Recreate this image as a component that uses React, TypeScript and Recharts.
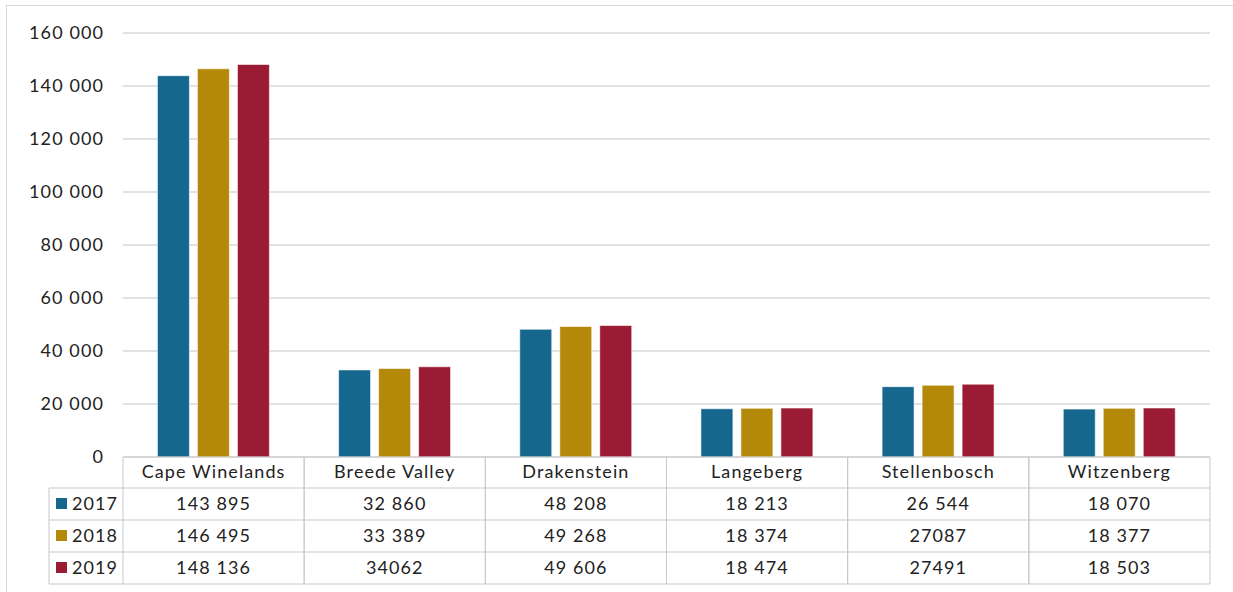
import React from "react";
import { BarChart, Bar, XAxis, YAxis, CartesianGrid } from "recharts";

const municipalities = [
  "Cape Winelands",
  "Breede Valley",
  "Drakenstein",
  "Langeberg",
  "Stellenbosch",
  "Witzenberg",
];
const values2017 = [143895, 32860, 48208, 18213, 26544, 18070];
const values2018 = [146495, 33389, 49268, 18374, 27087, 18377];
const values2019 = [148136, 34062, 49606, 18474, 27491, 18503];
// table cells are printed as they appear in the source table (some lack the space)
const labels2017 = ["143 895", "32 860", "48 208", "18 213", "26 544", "18 070"];
const labels2018 = ["146 495", "33 389", "49 268", "18 374", "27087", "18 377"];
const labels2019 = ["148 136", "34062", "49 606", "18 474", "27491", "18 503"];
const yTicks = [0, 20000, 40000, 60000, 80000, 100000, 120000, 140000, 160000];

const series = [
  { key: "y2017", name: "2017", color: "#15678e", labels: labels2017 },
  { key: "y2018", name: "2018", color: "#b4890a", labels: labels2018 },
  { key: "y2019", name: "2019", color: "#9b1b35", labels: labels2019 },
];

const data = municipalities.map((name, i) => ({
  name,
  y2017: values2017[i],
  y2018: values2018[i],
  y2019: values2019[i],
}));

const FONT = "Lato, 'DejaVu Sans', sans-serif";
const FONT_SIZE = 18;
const SPACING = 1.1;
const LINE = "#c9c9c9";
const TEXT = "#222";

const WIDTH = 1233;
const HEIGHT = 592;
const PLOT_LEFT = 123;
const PLOT_RIGHT = 1210;
const COL_W = (PLOT_RIGHT - PLOT_LEFT) / municipalities.length;
const HEADER_H = 31;
const ROW_H = 32;
const LEGEND_LEFT = 49;

const fmt = (v: number) => v.toLocaleString("en-US").replace(/,/g, " ");

// each x tick renders one column of the data table under its bars
function TableColumn(props: any) {
  const { x, y, payload, index } = props;
  const left = x - COL_W / 2;
  const right = x + COL_W / 2;
  const bottom = y + HEADER_H + ROW_H * series.length;
  return (
    <g fontFamily={FONT} fontSize={FONT_SIZE} letterSpacing={SPACING} fill={TEXT}>
      <line x1={left} x2={left} y1={y} y2={bottom} stroke={LINE} />
      <line x1={right} x2={right} y1={y} y2={bottom} stroke={LINE} />
      <text x={x} y={y + HEADER_H / 2 + 1} textAnchor="middle" dominantBaseline="middle">
        {payload.value}
      </text>
      {series.map((s, r) => {
        const top = y + HEADER_H + ROW_H * r;
        return (
          <g key={s.key}>
            <line x1={left} x2={right} y1={top} y2={top} stroke={LINE} />
            <text x={x} y={top + ROW_H / 2 + 1} textAnchor="middle" dominantBaseline="middle">
              {s.labels[index]}
            </text>
          </g>
        );
      })}
      <line x1={left} x2={right} y1={bottom} y2={bottom} stroke={LINE} />
      {index === 0 && (
        <g>
          <line x1={LEGEND_LEFT} x2={LEGEND_LEFT} y1={y + HEADER_H} y2={bottom} stroke={LINE} />
          {series.map((s, r) => {
            const top = y + HEADER_H + ROW_H * r;
            return (
              <g key={s.key}>
                <line x1={LEGEND_LEFT} x2={left} y1={top} y2={top} stroke={LINE} />
                <rect x={56} y={top + 10} width={11} height={11} fill={s.color} />
                <text x={72} y={top + ROW_H / 2 + 1} dominantBaseline="middle">
                  {s.name}
                </text>
              </g>
            );
          })}
          <line x1={LEGEND_LEFT} x2={left} y1={bottom} y2={bottom} stroke={LINE} />
        </g>
      )}
    </g>
  );
}

export default function App() {
  return (
    <div
      style={{
        position: "absolute",
        left: 0,
        top: 0,
        width: WIDTH,
        height: HEIGHT,
        background: "#fff",
        overflow: "hidden",
      }}
    >
      <div
        style={{
          position: "absolute",
          left: 6,
          top: 5,
          width: WIDTH,
          height: HEIGHT,
          border: "1.5px solid #d9d9d9",
        }}
      />
      <BarChart
        width={WIDTH}
        height={HEIGHT}
        data={data}
        margin={{ top: 33, right: WIDTH - PLOT_RIGHT, bottom: 8, left: 0 }}
        barCategoryGap="19%"
        barGap={8}
        style={{ position: "absolute", left: 0, top: 0 }}
      >
        <CartesianGrid vertical={false} stroke="#d9d9d9" strokeWidth={1.5} />
        <YAxis
          width={PLOT_LEFT}
          domain={[0, 160000]}
          ticks={yTicks}
          tickFormatter={fmt}
          axisLine={false}
          tickLine={false}
          tickSize={0}
          tickMargin={19}
          tick={{ fontFamily: FONT, fontSize: FONT_SIZE, letterSpacing: SPACING, fill: TEXT }}
        />
        <XAxis
          dataKey="name"
          height={HEADER_H + ROW_H * series.length}
          axisLine={{ stroke: LINE }}
          tickLine={false}
          tickSize={0}
          tickMargin={0}
          interval={0}
          tick={<TableColumn />}
        />
        {series.map((s) => (
          <Bar
            key={s.key}
            dataKey={s.key}
            name={s.name}
            fill={s.color}
            stroke="#ffffff"
            strokeOpacity={0.6}
            strokeWidth={1}
            isAnimationActive={false}
          />
        ))}
      </BarChart>
    </div>
  );
}
